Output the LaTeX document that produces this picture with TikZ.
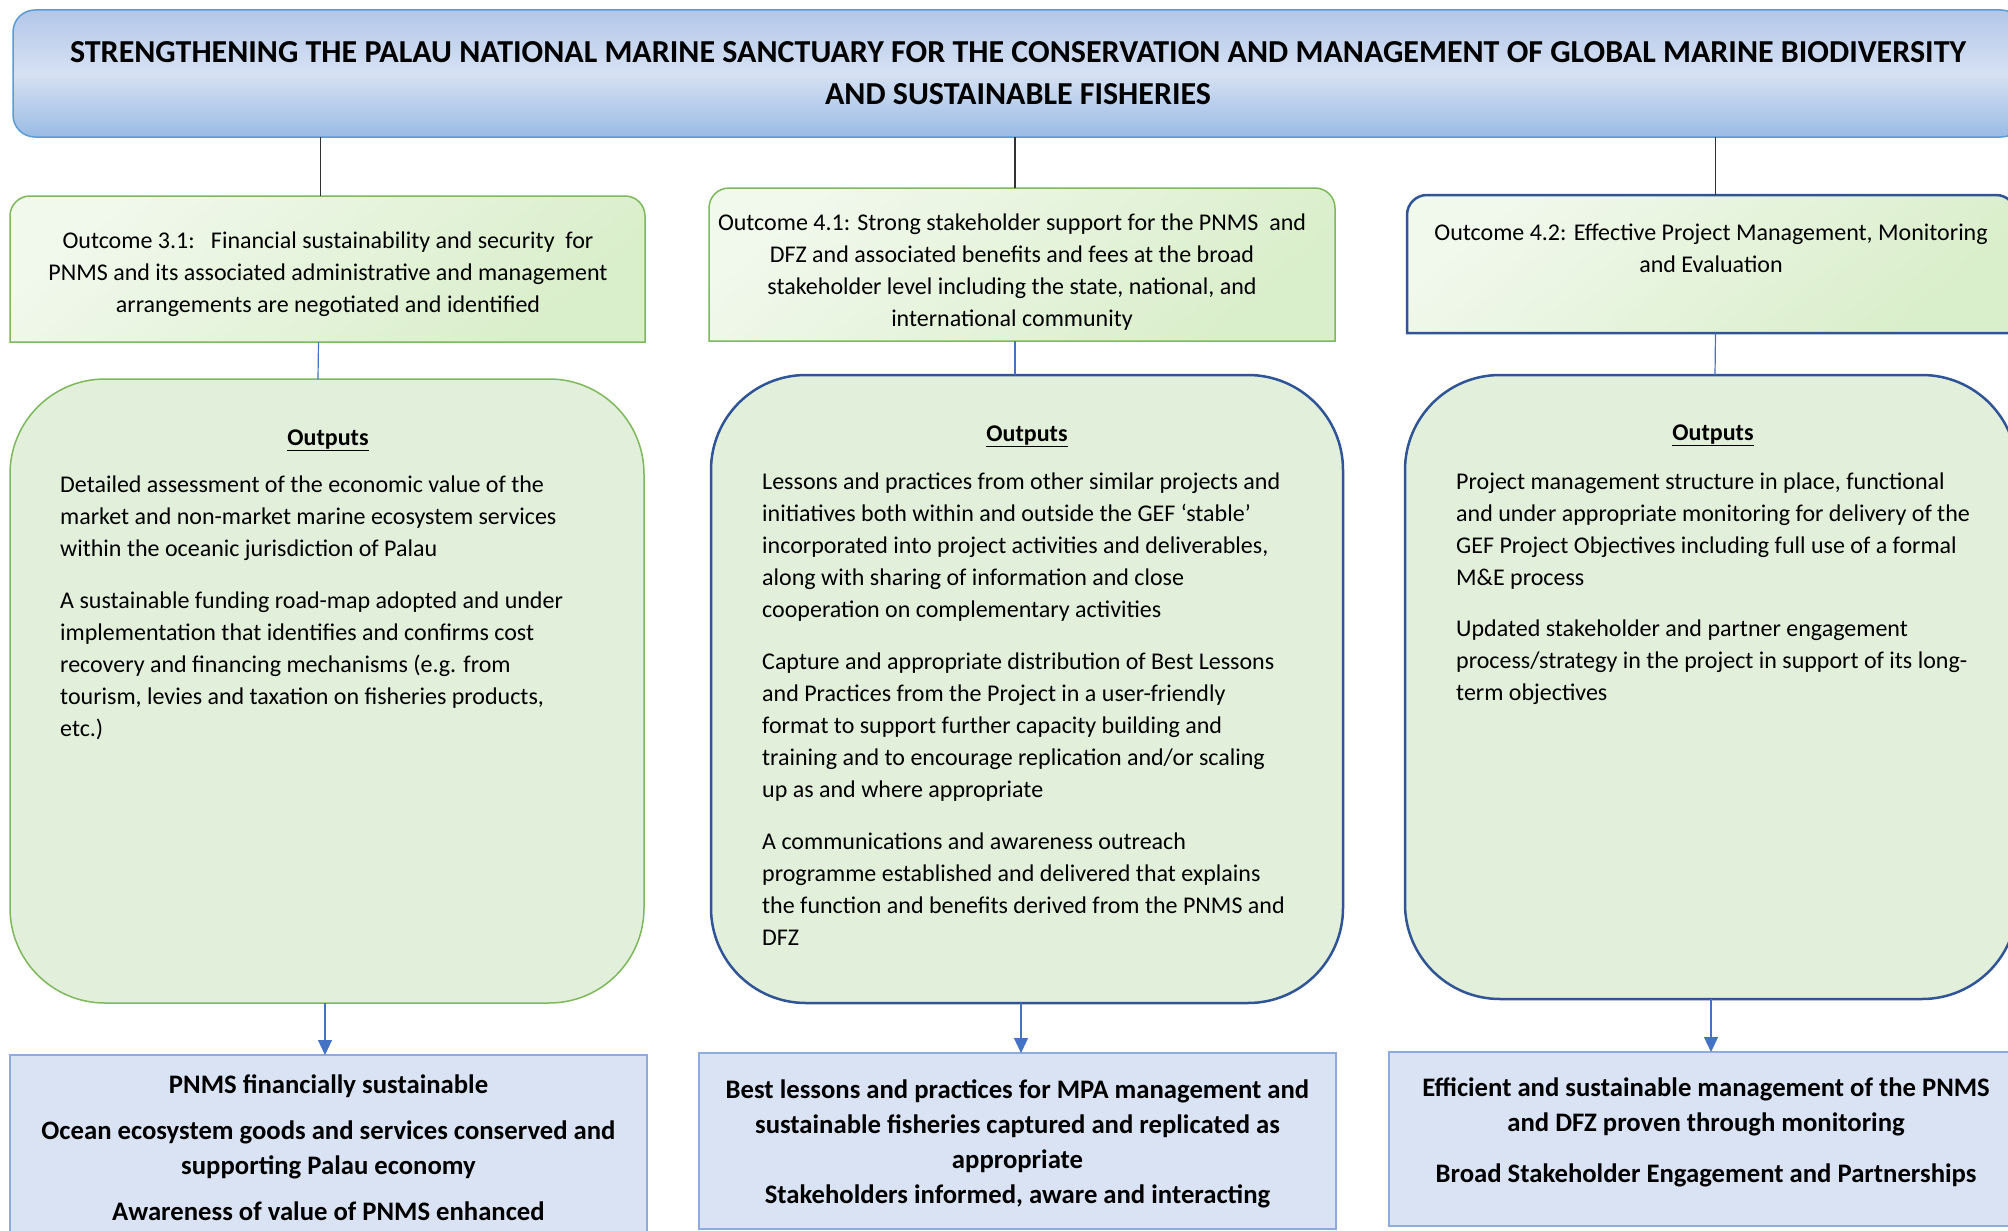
\documentclass[tikz,border=0pt]{standalone}
\usepackage{fontspec}
\setmainfont{Carlito}
\usetikzlibrary{calc,arrows.meta}

\definecolor{titletop}{HTML}{B2C7E9}
\definecolor{titlemid}{HTML}{D6E1F3}
\definecolor{titlebot}{HTML}{9ABBE4}
\definecolor{titleline}{HTML}{5B9BD5}
\definecolor{leaflight}{HTML}{F1F8EC}
\definecolor{leafdark}{HTML}{D9EECA}
\definecolor{leafline}{HTML}{7DB95B}
\definecolor{outfill}{HTML}{E2EFDA}
\definecolor{navy}{HTML}{2F5597}
\definecolor{resfill}{HTML}{DAE3F3}
\definecolor{resline}{HTML}{8FAADC}
\definecolor{arrowblue}{HTML}{4472C4}

% box with only the two upper corners rounded
\def\topround[#1](#2)(#3){\path[#1] (#2.south west) -- ($(#2.north west)+(0,#3)$) arc (180:270:#3) -- ($(#2.north east)-(#3,0)$) arc (270:360:#3) -- (#2.south east) -- cycle;}

\begin{document}
\begin{tikzpicture}[x=1pt, y=-1pt,
    frame/.style={rectangle, inner sep=0pt, outer sep=0pt},
    titlebar/.style={frame, draw=titleline, line width=1.5pt, rounded corners=22pt,
      top color=titletop, bottom color=titlebot, middle color=titlemid,
      font=\fontsize{32}{42}\selectfont\bfseries, align=center},
    outcome/.style={draw=leafline, line width=1.5pt, top color=leaflight, bottom color=leafdark, shading angle=40},
    otext/.style={inner sep=0pt, align=center, font=\fontsize{24}{32}\selectfont},
    outbox/.style={frame, draw=leafline, line width=1.5pt, fill=outfill, rounded corners=95pt},
    outhead/.style={inner sep=0pt, font=\fontsize{24}{28}\selectfont\bfseries},
    outtext/.style={inner sep=0pt, anchor=north west, align=left, font=\fontsize{24}{32}\selectfont},
    resbox/.style={frame, draw=resline, line width=2pt, fill=resfill, align=center,
      font=\fontsize{26.7}{35}\selectfont\bfseries},
    restext/.style={inner sep=0pt, align=center, font=\fontsize{26.7}{35}\selectfont\bfseries},
    stem/.style={line width=1.3pt, black!80},
    link/.style={line width=1.2pt, arrowblue},
    arr/.style={link, -{Triangle[length=15pt, width=14pt]}}]
		%%%%% START %%%%%
		\clip (0,0) rectangle (2008,1231);
		
		\node[titlebar, minimum width=2010pt, minimum height=127pt] (title) at (1018,73.5)
		  {STRENGTHENING THE PALAU NATIONAL MARINE SANCTUARY FOR THE CONSERVATION AND MANAGEMENT OF GLOBAL MARINE BIODIVERSITY\\AND SUSTAINABLE FISHERIES};
		
		% outcomes
		\node[frame, minimum width=635pt, minimum height=146pt] (o31) at (327.5,269) {};
		\node[frame, minimum width=626pt, minimum height=153pt] (o41) at (1022,264.5) {};
		\node[frame, minimum width=609pt, minimum height=138pt] (o42) at (1711.5,264) {};
		\topround[outcome](o31)(20)
		\topround[outcome](o41)(20)
		\topround[outcome, draw=navy, line width=2.5pt](o42)(20)
		
		\node[otext, anchor=north] (t31) at (328,232)
		  {Outcome 3.1:\ \ \ Financial sustainability and security\ \ for\\PNMS and its associated administrative and management\\arrangements are negotiated and identified};
		\node[otext, anchor=north] (t41) at (1012,213.5)
		  {Outcome 4.1: Strong stakeholder support for the PNMS\ \ and\\DFZ and associated benefits and fees at the broad\\stakeholder level including the state, national, and\\international community};
		\node[otext, anchor=north] (t42) at (1711,223.5)
		  {Outcome 4.2: Effective Project Management, Monitoring\\and Evaluation};
		
		% outputs
		\node[outbox, minimum width=634pt, minimum height=624pt] (out1) at (327,691) {};
		\node[outbox, draw=navy, line width=2.5pt, minimum width=632pt, minimum height=628pt] (out2) at (1027,689) {};
		\node[outbox, draw=navy, line width=2.5pt, minimum width=612pt, minimum height=624pt] (out3) at (1711,687) {};
		
		\node[outhead] (h1) at (328,440.5) {\underline{Outputs}};
		\node[outhead] (h2) at (1027,436.5) {\underline{Outputs}};
		\node[outhead] (h3) at (1713,435.5) {\underline{Outputs}};
		
		\node[outtext] (b1) at (60,476)
		  {Detailed assessment of the economic value of the\\market and non-market marine ecosystem services\\within the oceanic jurisdiction of Palau\\[20pt]
		   A sustainable funding road-map adopted and under\\implementation that identifies and confirms cost\\recovery and financing mechanisms (e.g. from\\tourism, levies and taxation on fisheries products,\\etc.)};
		\node[outtext] (b2) at (762,473)
		  {Lessons and practices from other similar projects and\\initiatives both within and outside the GEF ‘stable’\\incorporated into project activities and deliverables,\\along with sharing of information and close\\cooperation on complementary activities\\[20pt]
		   Capture and appropriate distribution of Best Lessons\\and Practices from the Project in a user-friendly\\format to support further capacity building and\\training and to encourage replication and/or scaling\\up as and where appropriate\\[20pt]
		   A communications and awareness outreach\\programme established and delivered that explains\\the function and benefits derived from the PNMS and\\DFZ};
		\node[outtext] (b3) at (1456,473)
		  {Project management structure in place, functional\\and under appropriate monitoring for delivery of the\\GEF Project Objectives including full use of a formal\\M\&E process\\[19pt]
		   Updated stakeholder and partner engagement\\process/strategy in the project in support of its long-\\term objectives};
		
		% results
		\node[resbox, minimum width=637pt, minimum height=185pt] (res1) at (328.5,1147.5)
		  {PNMS financially sustainable\\[11pt]Ocean ecosystem goods and services conserved and\\supporting Palau economy\\[11pt]Awareness of value of PNMS enhanced};
		\node[resbox, minimum width=637pt, minimum height=176pt] (res2) at (1017.5,1141) {};
		\node[restext, anchor=north] (r2) at (1017.5,1080)
		  {Best lessons and practices for MPA management and\\sustainable fisheries captured and replicated as\\appropriate\\Stakeholders informed, aware and interacting};
		\node[resbox, minimum width=634pt, minimum height=174pt] (res3) at (1706,1139) {};
		\node[restext, anchor=north] (r3) at (1706,1078)
		  {Efficient and sustainable management of the PNMS\\and DFZ proven through monitoring\\[16pt]Broad Stakeholder Engagement and Partnerships};
		
		% connectors
		\draw[stem] ([xshift=-7pt]o31.north |- title.south) -- ([xshift=-7pt]o31.north);
		\draw[stem] ([xshift=-7pt]o41.north |- title.south) -- ([xshift=-7pt]o41.north);
		\draw[stem] ([xshift=4pt]o42.north |- title.south) -- ([xshift=4pt]o42.north);
		
		\draw[link] ([xshift=-9pt]o31.south) -- ([xshift=-9pt]out1.north);
		\draw[link] ([xshift=-7pt]o41.south) -- ([xshift=-12pt]out2.north);
		\draw[link] ([xshift=4pt]o42.south) -- ([xshift=4pt]out3.north);
		
		\draw[arr] ([xshift=-2pt]out1.south) -- ([xshift=-2pt]out1.south |- res1.north);
		\draw[arr] ([xshift=-6pt]out2.south) -- ([xshift=-6pt]out2.south |- res2.north);
		\draw[arr] (out3.south) -- (out3.south |- res3.north);
		%%%%% END %%%%%
	\end{tikzpicture}
\end{document}
